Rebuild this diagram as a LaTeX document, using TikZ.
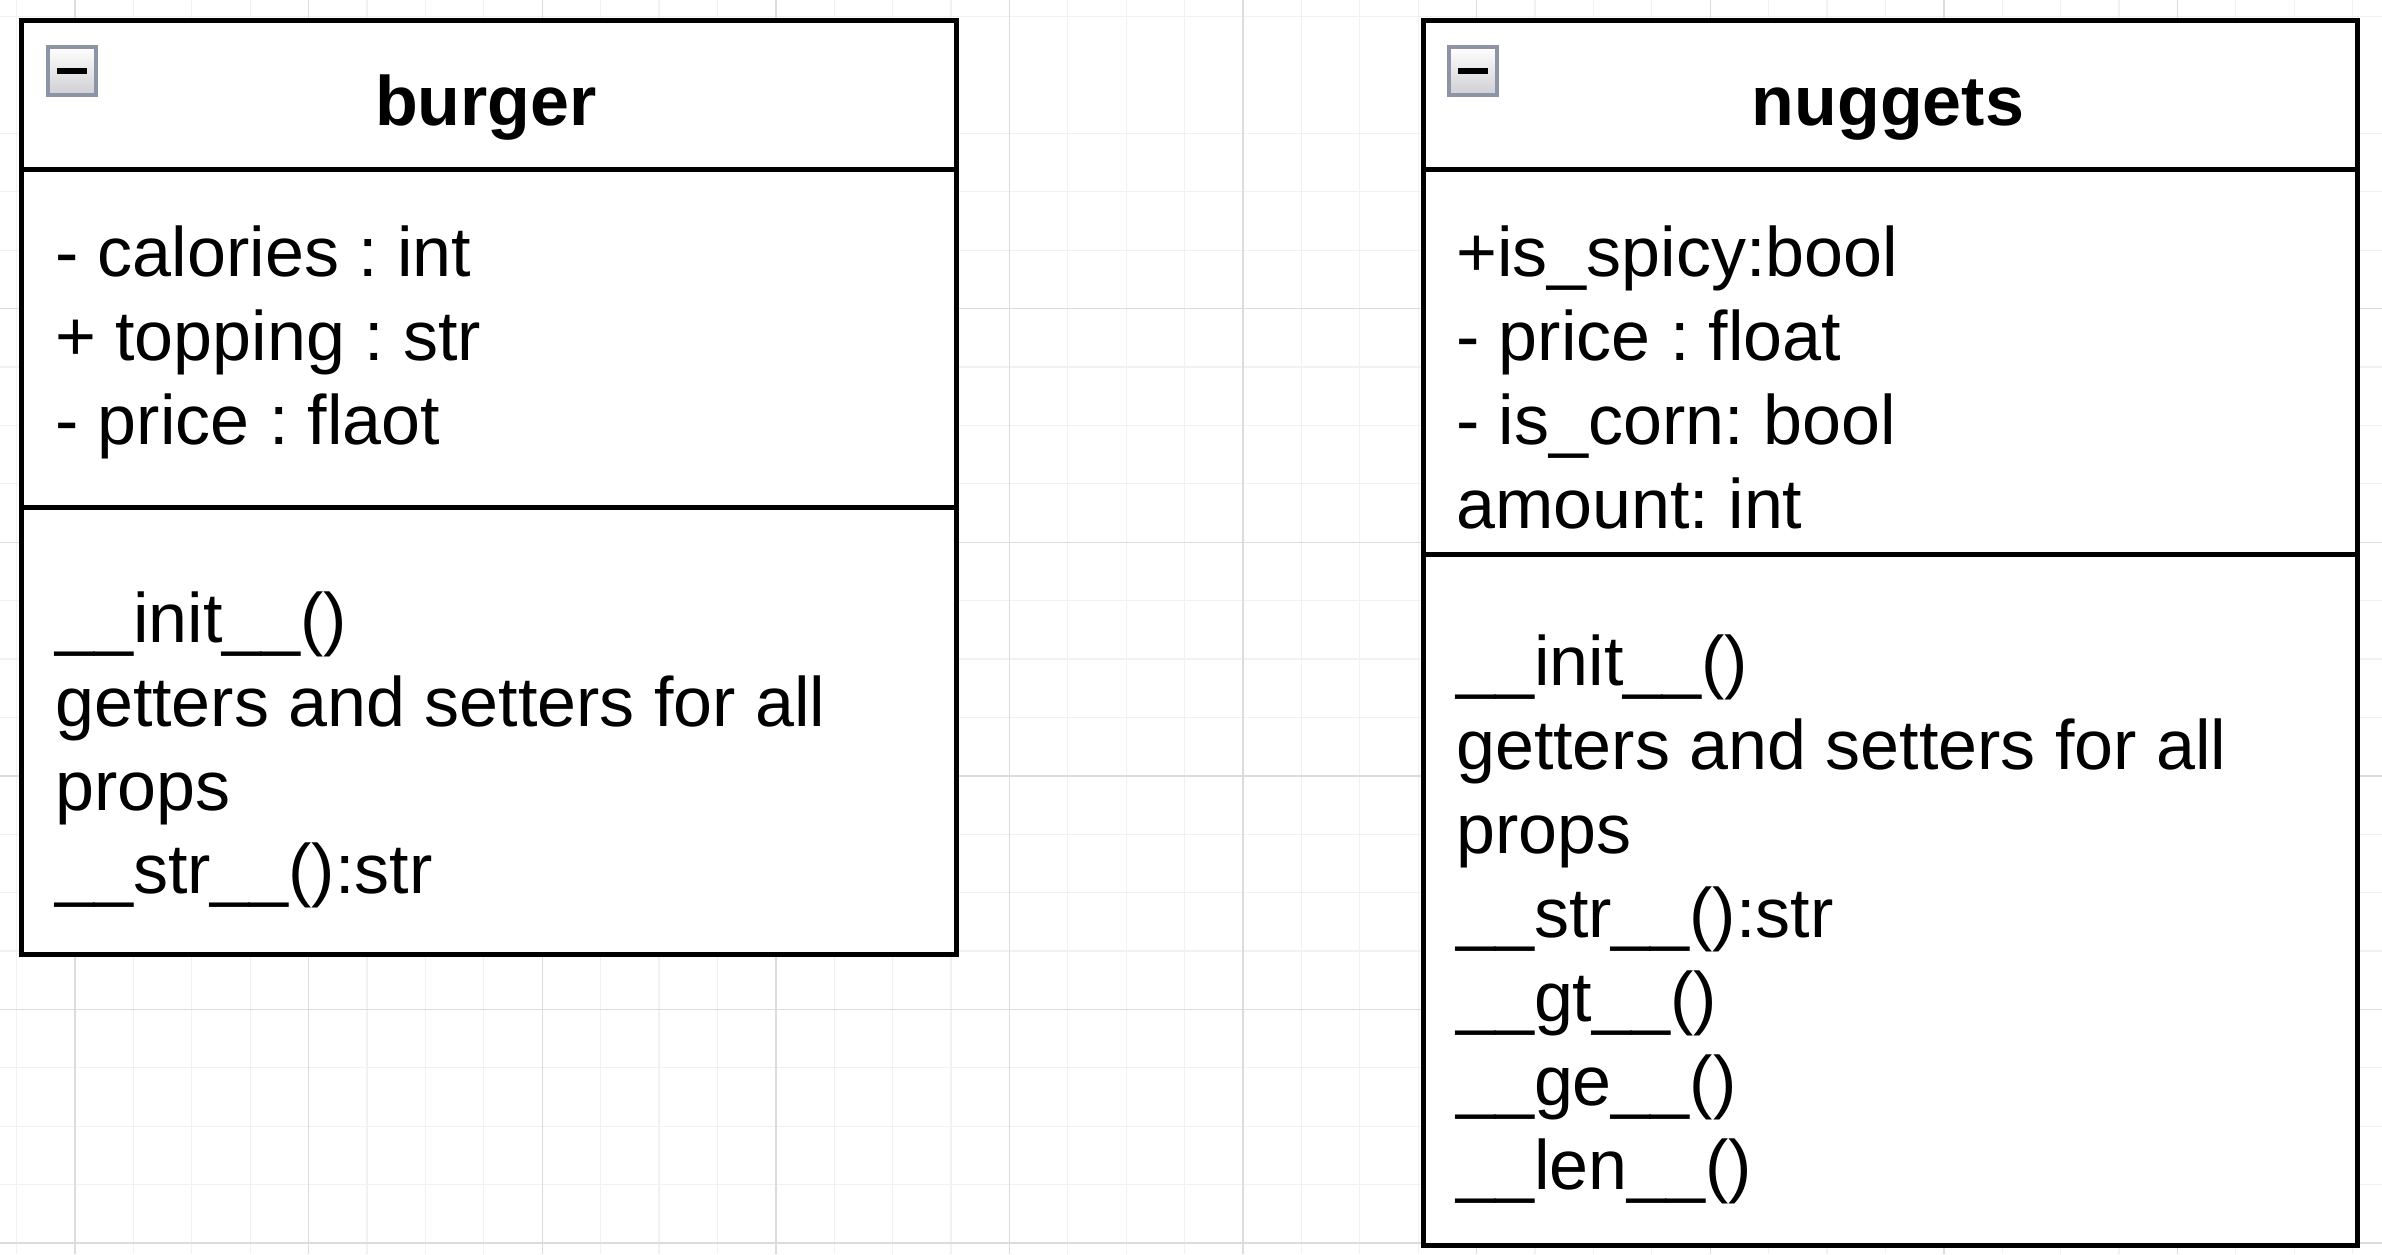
\documentclass[tikz,border=0pt]{standalone}
\usepackage{fontspec}
\setmainfont{Liberation Sans}
\frenchspacing
\definecolor{gridminor}{HTML}{F1F1F1}
\definecolor{gridmajor}{HTML}{DCDCDC}
\definecolor{iconborder}{HTML}{8C94A6}
\definecolor{iconbottom}{HTML}{CFCFD4}
\begin{document}
\begin{tikzpicture}[x=1pt,y=-1pt,
  classbox/.style={draw=black, line width=5pt, rectangle, inner sep=0pt, anchor=north west, fill=white},
  divider/.style={draw=black, line width=5pt},
  minusicon/.style={rectangle, draw=iconborder, line width=4pt, minimum size=48pt, inner sep=0pt, top color=white, bottom color=iconbottom},
  title/.style={anchor=base, inner sep=0pt, font=\bfseries\fontsize{70}{84}\selectfont},
  txt/.style={anchor=base west, inner sep=0pt, font=\fontsize{70}{84}\selectfont},
  minorline/.style={draw=gridminor, line width=1.2pt},
  majorline/.style={draw=gridmajor, line width=1.4pt}]
\useasboundingbox[fill=white] (0,0) rectangle (2382,1254);
% grid
\foreach \i in {-1,...,40} {
  \draw[minorline] ({75+58.4*\i},0) -- ({75+58.4*\i},1254);
}
\foreach \i in {-1,1,2,...,20} {
  \draw[minorline] (0,{75+58.4*\i}) -- (2382,{75+58.4*\i});
}
\foreach \i in {0,...,9} {
  \draw[majorline] ({75+233.6*\i},0) -- ({75+233.6*\i},1254);
}
\foreach \i in {1,...,5} {
  \draw[majorline] (0,{75+233.6*\i}) -- (2382,{75+233.6*\i});
}
% burger class
\node[classbox, minimum width=935pt, minimum height=934pt] (burger) at (19,17.5) {};
\coordinate (bh) at (0,169.5);
\coordinate (bd) at (0,507);
\draw[divider] (burger.west |- bh) -- (burger.east |- bh);
\draw[divider] (burger.west |- bd) -- (burger.east |- bd);
\node[minusicon] (bicon) at (72,71) {\rule[-3pt]{30pt}{6pt}};
\node[title] (btitle) at (486,125) {burger};
\node[txt] (ba1) at (55,276) {- calories : int};
\node[txt] (ba2) at (55,360) {+ topping : str};
\node[txt] (ba3) at (55,444) {- price : flaot};
\node[txt] (bm1) at (55,642) {\_\_init\_\_()};
\node[txt] (bm2) at (55,726) {getters and setters for all};
\node[txt] (bm3) at (55,810) {props};
\node[txt] (bm4) at (55,893) {\_\_str\_\_():str};
% nuggets class
\node[classbox, minimum width=934pt, minimum height=1225pt] (nuggets) at (1421,17.5) {};
\coordinate (nh) at (0,169.5);
\coordinate (nd) at (0,554);
\draw[divider] (nuggets.west |- nh) -- (nuggets.east |- nh);
\draw[divider] (nuggets.west |- nd) -- (nuggets.east |- nd);
\node[minusicon] (nicon) at (1473,71) {\rule[-3pt]{30pt}{6pt}};
\node[title] (ntitle) at (1888,125) {nuggets};
\node[txt] (na1) at (1456,276) {+is\_spicy:bool};
\node[txt] (na2) at (1456,360) {- price : float};
\node[txt] (na3) at (1456,444) {- is\_corn: bool};
\node[txt] (na4) at (1456,528) {amount: int};
\node[txt] (nm1) at (1456,685) {\_\_init\_\_()};
\node[txt] (nm2) at (1456,769) {getters and setters for all};
\node[txt] (nm3) at (1456,853) {props};
\node[txt] (nm4) at (1456,937) {\_\_str\_\_():str};
\node[txt] (nm5) at (1456,1021) {\_\_gt\_\_()};
\node[txt] (nm6) at (1456,1105) {\_\_ge\_\_()};
\node[txt] (nm7) at (1456,1189) {\_\_len\_\_()};
\end{tikzpicture}
\end{document}
